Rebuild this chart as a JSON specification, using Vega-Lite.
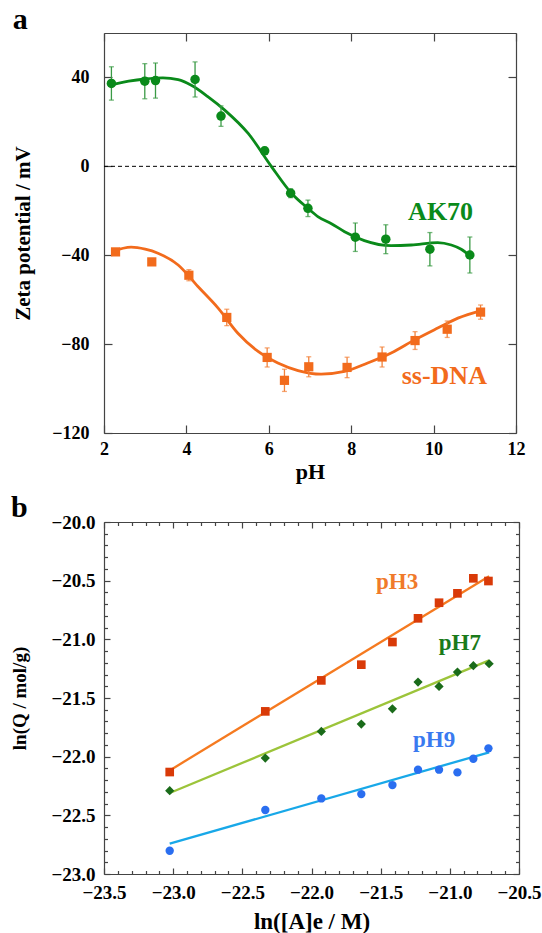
{
  "$schema": "https://vega.github.io/schema/vega-lite/v6.json",
  "padding": {"left": 10, "top": 5, "right": 5, "bottom": 2},
  "spacing": 11,
  "config": {
    "font": "Liberation Serif",
    "view": {"stroke": null},
    "axis": {
      "grid": false,
      "labelFont": "Liberation Serif",
      "labelFontWeight": "bold",
      "labelFontSize": 18,
      "labelColor": "black",
      "labelFlush": false,
      "labelOverlap": false,
      "titleFont": "Liberation Serif",
      "titleFontWeight": "bold",
      "titleFontSize": 21,
      "titleColor": "black",
      "domainColor": "#444",
      "domainWidth": 1.2,
      "tickColor": "#444",
      "tickWidth": 1.2
    }
  },
  "datasets": {
    "ak_pts": [
      {"x": 2.18, "y": 37.3, "err": 7.5},
      {"x": 2.99, "y": 38.3, "err": 7.9},
      {"x": 3.25, "y": 38.6, "err": 7.9},
      {"x": 4.21, "y": 39.1, "err": 7.9},
      {"x": 4.84, "y": 22.6, "err": 4.6},
      {"x": 5.90, "y": 7.0, "err": 1.5},
      {"x": 6.53, "y": -12.1, "err": 2.0},
      {"x": 6.95, "y": -18.9, "err": 3.7},
      {"x": 8.10, "y": -31.9, "err": 6.4},
      {"x": 8.84, "y": -32.8, "err": 6.5},
      {"x": 9.91, "y": -37.3, "err": 7.5},
      {"x": 10.88, "y": -39.9, "err": 8.1}
    ],
    "dna_pts": [
      {"x": 2.28, "y": -38.5, "err": 1.0},
      {"x": 3.16, "y": -43.0, "err": 1.5},
      {"x": 4.06, "y": -49.0, "err": 2.5},
      {"x": 4.98, "y": -68.0, "err": 3.7},
      {"x": 5.96, "y": -86.0, "err": 4.3},
      {"x": 6.38, "y": -96.3, "err": 5.0},
      {"x": 6.97, "y": -90.2, "err": 4.5},
      {"x": 7.90, "y": -90.5, "err": 4.6},
      {"x": 8.75, "y": -85.8, "err": 4.5},
      {"x": 9.55, "y": -78.4, "err": 4.0},
      {"x": 10.33, "y": -73.3, "err": 3.7},
      {"x": 11.14, "y": -65.6, "err": 3.2}
    ],
    "ak_fit": [
      {"x": 2.1, "y": 36.3}, {"x": 2.6, "y": 38.3}, {"x": 3.0, "y": 39.3},
      {"x": 3.43, "y": 39.8}, {"x": 3.8, "y": 39.0}, {"x": 4.12, "y": 36.5},
      {"x": 4.52, "y": 31.4}, {"x": 4.93, "y": 25.3}, {"x": 5.5, "y": 14.8},
      {"x": 6.06, "y": 0.0}, {"x": 6.55, "y": -12.1}, {"x": 6.95, "y": -18.9},
      {"x": 7.19, "y": -22.6}, {"x": 7.52, "y": -25.8}, {"x": 7.84, "y": -29.4},
      {"x": 8.32, "y": -33.4}, {"x": 8.97, "y": -35.7}, {"x": 9.46, "y": -35.4},
      {"x": 10.1, "y": -34.3}, {"x": 10.43, "y": -35.4}, {"x": 10.67, "y": -37.3},
      {"x": 10.88, "y": -40.3}
    ],
    "dna_fit": [
      {"x": 2.19, "y": -38.4}, {"x": 2.66, "y": -36.4}, {"x": 3.0, "y": -37.3},
      {"x": 3.31, "y": -39.1}, {"x": 3.8, "y": -44.4}, {"x": 4.28, "y": -54.1},
      {"x": 4.77, "y": -63.8}, {"x": 5.25, "y": -75.1}, {"x": 5.74, "y": -83.3},
      {"x": 6.22, "y": -88.5}, {"x": 6.71, "y": -91.9}, {"x": 7.27, "y": -93.5},
      {"x": 7.84, "y": -92.3}, {"x": 8.4, "y": -88.5}, {"x": 8.97, "y": -84.0},
      {"x": 9.54, "y": -78.1}, {"x": 10.1, "y": -72.8}, {"x": 10.59, "y": -68.3},
      {"x": 11.16, "y": -64.9}
    ],
    "p3": [
      {"x": -23.025, "y": -22.131}, {"x": -22.334, "y": -21.614}, {"x": -21.929, "y": -21.350},
      {"x": -21.640, "y": -21.216}, {"x": -21.415, "y": -21.023}, {"x": -21.230, "y": -20.821},
      {"x": -21.078, "y": -20.688}, {"x": -20.945, "y": -20.608}, {"x": -20.830, "y": -20.480},
      {"x": -20.721, "y": -20.503}
    ],
    "p7": [
      {"x": -23.025, "y": -22.290}, {"x": -22.334, "y": -22.012}, {"x": -21.929, "y": -21.785},
      {"x": -21.640, "y": -21.722}, {"x": -21.415, "y": -21.592}, {"x": -21.230, "y": -21.364},
      {"x": -21.078, "y": -21.401}, {"x": -20.945, "y": -21.279}, {"x": -20.830, "y": -21.225},
      {"x": -20.716, "y": -21.208}
    ],
    "p9": [
      {"x": -23.025, "y": -22.802}, {"x": -22.334, "y": -22.455}, {"x": -21.929, "y": -22.356},
      {"x": -21.640, "y": -22.319}, {"x": -21.415, "y": -22.242}, {"x": -21.230, "y": -22.111},
      {"x": -21.078, "y": -22.111}, {"x": -20.945, "y": -22.134}, {"x": -20.830, "y": -22.018},
      {"x": -20.721, "y": -21.929}
    ],
    "l3": [{"x": -23.025, "y": -22.117}, {"x": -20.716, "y": -20.463}],
    "l7": [{"x": -23.025, "y": -22.310}, {"x": -20.716, "y": -21.179}],
    "l9": [{"x": -23.025, "y": -22.742}, {"x": -20.716, "y": -21.963}]
  },
  "vconcat": [
    {
      "width": 412,
      "height": 400,
      "title": {"text": "a", "anchor": "start", "frame": "bounds", "fontSize": 30, "font": "Liberation Serif", "fontWeight": "bold", "color": "black", "offset": -3},
      "encoding": {
        "x": {"field": "x", "type": "quantitative", "scale": {"domain": [2, 12], "nice": false, "zero": false}, "axis": null},
        "y": {"field": "y", "type": "quantitative", "scale": {"domain": [-120, 60], "nice": false, "zero": false}, "axis": null}
      },
      "layer": [
        {
          "data": {"values": [{"x": 2, "x2": 12, "y": 0}]},
          "mark": {"type": "rule", "strokeDash": [4, 3], "strokeWidth": 1, "color": "black"},
          "encoding": {"x2": {"field": "x2"}}
        },
        {
          "data": {"name": "ak_fit"},
          "mark": {"type": "line", "interpolate": "monotone", "color": "#0a8a1a", "strokeWidth": 2.8},
          "encoding": {
            "x": {"field": "x", "type": "quantitative", "scale": {"domain": [2, 12], "nice": false, "zero": false},
                  "axis": {"orient": "bottom", "values": [2, 4, 6, 8, 10, 12], "title": "pH", "titleFontSize": 22, "tickSize": -8, "labelPadding": 15, "offset": 0, "titlePadding": 3}},
            "y": {"field": "y", "type": "quantitative", "scale": {"domain": [-120, 60], "nice": false, "zero": false},
                  "axis": {"orient": "left", "values": [-120, -80, -40, 0, 40], "title": "Zeta potential / mV", "tickSize": -8, "labelPadding": 23, "offset": 0, "titlePadding": 18}}
          }
        },
        {
          "data": {"name": "dna_fit"},
          "mark": {"type": "line", "interpolate": "monotone", "color": "#f26b1c", "strokeWidth": 2.8},
          "encoding": {
            "x": {"field": "x", "type": "quantitative", "scale": {"domain": [2, 12], "nice": false, "zero": false},
                  "axis": {"orient": "top", "values": [2, 4, 6, 8, 10, 12], "labels": false, "title": null, "tickSize": -8, "offset": 0}},
            "y": {"field": "y", "type": "quantitative", "scale": {"domain": [-120, 60], "nice": false, "zero": false},
                  "axis": {"orient": "right", "values": [-120, -80, -40, 0, 40], "labels": false, "title": null, "tickSize": -8, "offset": 0}}
          }
        },
        {
          "data": {"name": "ak_pts"},
          "mark": {"type": "errorbar", "color": "#3a9a45", "ticks": true, "thickness": 1.3},
          "encoding": {"yError": {"field": "err"}}
        },
        {
          "data": {"name": "dna_pts"},
          "mark": {"type": "errorbar", "color": "#f2813a", "ticks": true, "thickness": 1.3},
          "encoding": {"yError": {"field": "err"}}
        },
        {
          "data": {"name": "ak_pts"},
          "mark": {"type": "point", "shape": "circle", "filled": true, "opacity": 1, "size": 90, "color": "#0a8a1a"}
        },
        {
          "data": {"name": "dna_pts"},
          "mark": {"type": "point", "shape": "square", "filled": true, "opacity": 1, "size": 85, "color": "#f26b1c"}
        },
        {
          "data": {"values": [{"x": 10.17, "y": -20.5, "label": "AK70"}]},
          "mark": {"type": "text", "fontSize": 26, "fontWeight": "bold", "font": "Liberation Serif", "color": "#0a8a1a", "align": "center", "baseline": "middle"},
          "encoding": {"text": {"field": "label"}}
        },
        {
          "data": {"values": [{"x": 10.26, "y": -94.5, "label": "ss-DNA"}]},
          "mark": {"type": "text", "fontSize": 26, "fontWeight": "bold", "font": "Liberation Serif", "color": "#f26b1c", "align": "center", "baseline": "middle"},
          "encoding": {"text": {"field": "label"}}
        }
      ],
      "resolve": {"axis": {"x": "independent", "y": "independent"}}
    },
    {
      "width": 415,
      "height": 352,
      "title": {"text": "b", "anchor": "start", "frame": "bounds", "fontSize": 30, "font": "Liberation Serif", "fontWeight": "bold", "color": "black", "offset": -10},
      "encoding": {
        "x": {"field": "x", "type": "quantitative", "scale": {"domain": [-23.5, -20.5], "nice": false, "zero": false}, "axis": null},
        "y": {"field": "y", "type": "quantitative", "scale": {"domain": [-23, -20], "nice": false, "zero": false}, "axis": null}
      },
      "layer": [
        {
          "data": {"name": "l3"},
          "mark": {"type": "line", "color": "#f57a20", "strokeWidth": 2.3},
          "encoding": {
            "x": {"field": "x", "type": "quantitative", "scale": {"domain": [-23.5, -20.5], "nice": false, "zero": false},
                  "axis": {"orient": "bottom", "values": [-23.5, -23, -22.5, -22, -21.5, -21, -20.5], "format": ".1f", "title": "ln([A]e / M)", "titleFontSize": 23, "labelFontSize": 19, "tickSize": -6, "labelPadding": 15, "offset": 0, "titlePadding": 8}},
            "y": {"field": "y", "type": "quantitative", "scale": {"domain": [-23, -20], "nice": false, "zero": false},
                  "axis": {"orient": "left", "values": [-23, -22.5, -22, -21.5, -21, -20.5, -20], "format": ".1f", "title": "ln(Q / mol/g)", "titleFontSize": 19, "labelFontSize": 19, "tickSize": -6, "labelPadding": 15, "offset": 0, "titlePadding": 21}}
          }
        },
        {
          "data": {"name": "l7"},
          "mark": {"type": "line", "color": "#9cc43a", "strokeWidth": 2.3},
          "encoding": {
            "x": {"field": "x", "type": "quantitative", "scale": {"domain": [-23.5, -20.5], "nice": false, "zero": false},
                  "axis": {"orient": "top", "values": [-23.5, -23, -22.5, -22, -21.5, -21, -20.5], "labels": false, "title": null, "tickSize": -6, "offset": 0}},
            "y": {"field": "y", "type": "quantitative", "scale": {"domain": [-23, -20], "nice": false, "zero": false},
                  "axis": {"orient": "right", "values": [-23, -22.5, -22, -21.5, -21, -20.5, -20], "labels": false, "title": null, "tickSize": -6, "offset": 0}}
          }
        },
        {
          "data": {"name": "l9"},
          "mark": {"type": "line", "color": "#18a8e8", "strokeWidth": 2.3},
          "encoding": {
            "x": {"field": "x", "type": "quantitative", "scale": {"domain": [-23.5, -20.5], "nice": false, "zero": false},
                  "axis": {"orient": "bottom", "values": [-23.4, -23.3, -23.2, -23.1, -22.9, -22.8, -22.7, -22.6, -22.4, -22.3, -22.2, -22.1, -21.9, -21.8, -21.7, -21.6, -21.4, -21.3, -21.2, -21.1, -20.9, -20.8, -20.7, -20.6], "labels": false, "domain": false, "title": null, "tickSize": -3.5, "offset": 0}},
            "y": {"field": "y", "type": "quantitative", "scale": {"domain": [-23, -20], "nice": false, "zero": false},
                  "axis": {"orient": "left", "values": [-22.9, -22.8, -22.7, -22.6, -22.4, -22.3, -22.2, -22.1, -21.9, -21.8, -21.7, -21.6, -21.4, -21.3, -21.2, -21.1, -20.9, -20.8, -20.7, -20.6, -20.4, -20.3, -20.2, -20.1], "labels": false, "domain": false, "title": null, "tickSize": -3.5, "offset": 0}}
          }
        },
        {
          "data": {"name": "p3"},
          "mark": {"type": "point", "shape": "square", "filled": true, "opacity": 1, "size": 75, "color": "#d93a08"},
          "encoding": {
            "x": {"field": "x", "type": "quantitative", "scale": {"domain": [-23.5, -20.5], "nice": false, "zero": false},
                  "axis": {"orient": "top", "values": [-23.4, -23.3, -23.2, -23.1, -22.9, -22.8, -22.7, -22.6, -22.4, -22.3, -22.2, -22.1, -21.9, -21.8, -21.7, -21.6, -21.4, -21.3, -21.2, -21.1, -20.9, -20.8, -20.7, -20.6], "labels": false, "domain": false, "title": null, "tickSize": -3.5, "offset": 0}},
            "y": {"field": "y", "type": "quantitative", "scale": {"domain": [-23, -20], "nice": false, "zero": false},
                  "axis": {"orient": "right", "values": [-22.9, -22.8, -22.7, -22.6, -22.4, -22.3, -22.2, -22.1, -21.9, -21.8, -21.7, -21.6, -21.4, -21.3, -21.2, -21.1, -20.9, -20.8, -20.7, -20.6, -20.4, -20.3, -20.2, -20.1], "labels": false, "domain": false, "title": null, "tickSize": -3.5, "offset": 0}}
          }
        },
        {
          "data": {"name": "p7"},
          "mark": {"type": "point", "shape": "diamond", "filled": true, "opacity": 1, "size": 85, "color": "#1a6b1a"}
        },
        {
          "data": {"name": "p9"},
          "mark": {"type": "point", "shape": "circle", "filled": true, "opacity": 1, "size": 70, "color": "#2a6ef0"}
        },
        {
          "data": {"values": [{"x": -21.381, "y": -20.512, "label": "pH3"}]},
          "mark": {"type": "text", "fontSize": 23, "fontWeight": "bold", "font": "Liberation Serif", "color": "#f07a2a", "align": "center", "baseline": "middle"},
          "encoding": {"text": {"field": "label"}}
        },
        {
          "data": {"values": [{"x": -20.928, "y": -21.027, "label": "pH7"}]},
          "mark": {"type": "text", "fontSize": 23, "fontWeight": "bold", "font": "Liberation Serif", "color": "#1a7a1a", "align": "center", "baseline": "middle"},
          "encoding": {"text": {"field": "label"}}
        },
        {
          "data": {"values": [{"x": -21.114, "y": -21.858, "label": "pH9"}]},
          "mark": {"type": "text", "fontSize": 23, "fontWeight": "bold", "font": "Liberation Serif", "color": "#3a7af0", "align": "center", "baseline": "middle"},
          "encoding": {"text": {"field": "label"}}
        }
      ],
      "resolve": {"axis": {"x": "independent", "y": "independent"}}
    }
  ]
}
